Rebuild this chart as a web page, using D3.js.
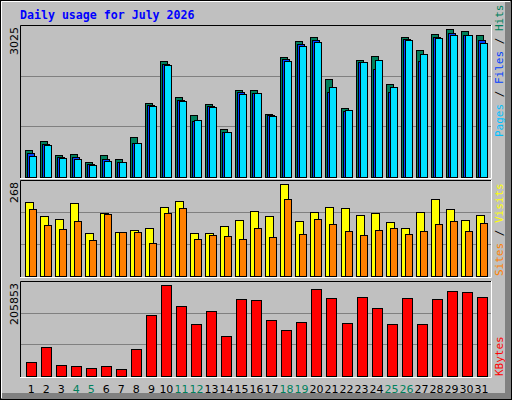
<!DOCTYPE html>
<html><head><meta charset="utf-8">
<script src="https://cdn.jsdelivr.net/npm/d3@7"></script>
<style>body{margin:0;background:#fff}svg{display:block}</style>
</head><body>
<svg id="c" width="512" height="400"></svg>
<script>
const days = d3.range(1, 32);
const weekend = [4,5,11,12,18,19,25,26];
const hits  = [547,731,444,465,301,444,362,813,1509,2370,1632,1264,1489,977,1776,1776,1284,2451,2779,2861,2001,1407,2390,2472,1898,2861,2595,2922,3025,2984,2902];
const files = [485,676,410,410,272,362,301,690,1468,2308,1571,1141,1448,915,1735,1714,1264,2410,2718,2800,1735,1346,2349,2206,1735,2820,2369,2861,2943,2902,2800];
const pages = [430,649,383,362,246,322,301,690,1448,2288,1550,1161,1427,915,1694,1714,1243,2369,2677,2759,1837,1366,2349,2390,1837,2800,2513,2841,2902,2902,2738];
const visits= [216,175,166,213,125,184,128,134,140,201,218,125,125,146,163,189,175,268,160,186,201,198,178,184,157,140,186,224,195,163,178];
const sites = [195,149,137,160,105,181,128,128,96,184,198,108,119,117,108,140,114,224,122,166,151,131,119,134,140,122,131,151,160,131,154];
const kbytes= [32243,66063,25478,23223,18714,23223,16459,61553,138213,205853,158505,117921,147232,90864,174288,172033,126940,104393,122430,196834,176543,120175,178797,153996,117921,176543,117921,174288,192325,190070,178797];
const title = "Daily usage for July 2026";

const svg = d3.select("#c");
const mono = "'DejaVu Sans Mono', monospace";
// background & bevel
svg.append("rect").attr("x",0).attr("y",0).attr("width",512).attr("height",400).attr("fill","#c0c0c0");
svg.append("rect").attr("x",505).attr("y",1).attr("width",6).attr("height",398).attr("fill","#808080");
svg.append("rect").attr("x",1).attr("y",393).attr("width",510).attr("height",6).attr("fill","#808080");
svg.append("path").attr("d","M1.5,398 L1.5,1.5 L510,1.5").attr("stroke","#fff").attr("fill","none");
svg.append("rect").attr("x",0.5).attr("y",0.5).attr("width",511).attr("height",399).attr("fill","none").attr("stroke","#000");

svg.append("text").attr("x",20).attr("y",19).attr("font-family",mono).attr("font-weight","bold")
  .attr("font-size",11.6).attr("fill","#0000ff").text(title);

const x = d3.scaleBand().domain(days).range([20.3, 485.6]).paddingInner(0);
const L = 20, R = 491;

function panel(top, base, maxPix) {
  // frame
  svg.append("path").attr("d",`M${L+0.5},${base+1} L${L+0.5},${top+0.5} L${R},${top+0.5}`).attr("stroke","#000").attr("fill","none");
  svg.append("path").attr("d",`M${L},${base+1.5} L${R+0.5},${base+1.5} L${R+0.5},${top}`).attr("stroke","#fff").attr("fill","none");
  const h = base - top;
  [1,2].forEach(k => {
    const gy = Math.round(base - h*k/3) + 0.5;
    svg.append("line").attr("x1",L+1).attr("x2",R).attr("y1",gy).attr("y2",gy).attr("stroke","#808080");
  });
}
function bars(data, y, base, off, w, color) {
  svg.append("g").selectAll("rect").data(data).join("rect")
    .attr("x",(d,i)=>Math.round(x(days[i]))+off+0.5).attr("y",d=>Math.round(y(d))+0.5)
    .attr("width",w).attr("height",d=>base-Math.round(y(d)))
    .attr("fill",color).attr("stroke","#000");
}
function vlabel(xp, yp, txt, anchor) {
  svg.append("text").attr("transform",`translate(${xp},${yp}) rotate(-90)`)
    .attr("font-family","'DejaVu Sans', sans-serif").attr("font-size",11).attr("text-anchor",anchor).attr("fill","#000").text(txt);
}
function rlabel(yp, parts) {
  const t = svg.append("text").attr("transform",`translate(503,${yp}) rotate(-90)`)
    .attr("font-family",mono).attr("font-size",11);
  parts.forEach(p => t.append("tspan").attr("fill",p[1]).text(p[0]));
}

// top panel
const t1=25, b1=177;
panel(t1,b1);
const y1 = d3.scaleLinear().domain([0,3025]).range([b1, 29]);
bars(hits, y1, b1, 5, 7, "#00805c");
bars(files, y1, b1, 7, 7, "#0040ff");
bars(pages, y1, b1, 9, 7, "#00e0ff");
vlabel(18, t1+2, "3025", "end");
rlabel(b1-40, [["Pages","#00c0ff"],[" / ","#000"],["Files","#0040ff"],[" / ","#000"],["Hits","#00805c"]]);

// middle panel
const t2=180, b2=276;
panel(t2,b2);
const y2 = d3.scaleLinear().domain([0,268]).range([b2, 184]);
bars(visits, y2, b2, 5, 8, "#ffff00");
bars(sites, y2, b2, 9, 7, "#ff8000");
vlabel(18, t2+2, "268", "end");
rlabel(b2, [["Sites","#ff8000"],[" / ","#000"],["Visits","#ffff00"]]);

// bottom panel
const t3=281, b3=376;
panel(t3,b3);
const y3 = d3.scaleLinear().domain([0,205853]).range([b3, 284.5]);
bars(kbytes, y3, b3, 6, 10, "#ff0000");
vlabel(18, t3+2, "205853", "end");
rlabel(b3, [["KBytes","#ff0000"]]);

// x labels
svg.append("g").selectAll("text").data(days).join("text")
  .attr("x",d=>x(d)+11).attr("y",393).attr("text-anchor","middle")
  .attr("font-family","'DejaVu Sans', sans-serif").attr("font-size",11)
  .attr("fill",d=>weekend.includes(d)?"#00805c":"#000").text(d=>d);
</script>
</body></html>
